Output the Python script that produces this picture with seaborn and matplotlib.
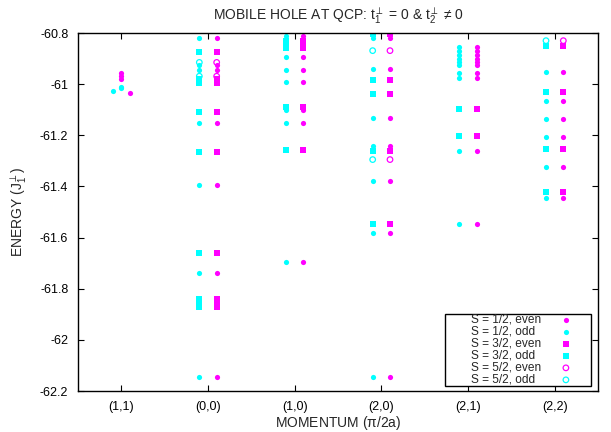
import numpy as np
import pandas as pd
import seaborn as sns
import matplotlib.pyplot as plt

# momentum points along the x axis
momenta = ['(1,1)', '(0,0)', '(1,0)', '(2,0)', '(2,1)', '(2,2)']

# S = 1/2 levels (filled circles); odd sits left of the tick, even to the right
half_odd_x = [0.9, 1.0, 1.0]
half_odd_E = [-61.027, -61.010, -61.017]
half_even_x = [1.0, 1.0, 1.0, 1.1]
half_even_E = [-60.958, -60.968, -60.978, -61.035]
half_E = {
    '(0,0)': [-60.820, -60.925, -60.945, -61.152, -61.396, -61.740, -62.147],
    '(1,0)': [-60.813, -60.894, -60.944, -60.992, -61.103, -61.150, -61.697],
    '(2,0)': [-60.820, -60.939, -61.133, -61.241, -61.380, -61.581, -62.147],
    '(2,1)': [-60.855, -60.870, -60.885, -60.900, -60.915, -60.925, -60.955,
              -60.975, -61.262, -61.548],
    '(2,2)': [-60.951, -61.065, -61.135, -61.206, -61.324, -61.445],
}

# S = 3/2 levels (filled squares)
three_E = {
    '(0,0)': [-60.874, -60.980, -60.995, -61.108, -61.264, -61.662, -61.840,
              -61.855, -61.870],
    '(1,0)': [-60.830, -60.845, -60.860, -61.090, -61.259],
    '(2,0)': [-60.805, -60.985, -61.037, -61.263, -61.548],
    '(2,1)': [-61.099, -61.202],
    '(2,2)': [-60.849, -61.030, -61.255, -61.423],
}

# S = 5/2 levels (open circles)
five_E = {
    '(0,0)': [-60.915, -60.969],
    '(2,0)': [-60.869, -61.295],
    '(2,2)': [-60.830],
}

labels = ['S = 1/2, even', 'S = 1/2, odd', 'S = 3/2, even',
          'S = 3/2, odd', 'S = 5/2, even', 'S = 5/2, odd']

shift = 0.1
lead = ' ' * 8   # gnuplot key has a wide left margin


def to_frame(levels, side):
    rows = []
    for k, vals in levels.items():
        pos = momenta.index(k) + 1 + side * shift
        for e in vals:
            rows.append((pos, e))
    return pd.DataFrame(rows, columns=['x', 'E'])


sns.set_style('ticks')
plt.rcParams['font.family'] = ['Liberation Sans', 'DejaVu Sans']
plt.rcParams['mathtext.fontset'] = 'custom'
plt.rcParams['mathtext.rm'] = 'Liberation Sans'
plt.rcParams['mathtext.it'] = 'Liberation Sans'

fig = plt.figure(figsize=(6.11, 4.32), dpi=100)
ax = fig.add_axes([78 / 611, 1 - 391 / 432, 520 / 611, 358 / 432])

mag = '#ff00ff'
cya = '#00ffff'

# S = 1/2
d = pd.concat([to_frame(half_E, +1),
               pd.DataFrame({'x': half_even_x, 'E': half_even_E})])
sns.scatterplot(data=d, x='x', y='E', color=mag, marker='o', s=14,
                linewidth=0, label=lead + labels[0], ax=ax)
d = pd.concat([to_frame(half_E, -1),
               pd.DataFrame({'x': half_odd_x, 'E': half_odd_E})])
sns.scatterplot(data=d, x='x', y='E', color=cya, marker='o', s=14,
                linewidth=0, label=lead + labels[1], ax=ax)

# S = 3/2
sns.scatterplot(data=to_frame(three_E, +1), x='x', y='E', color=mag,
                marker='s', s=19, linewidth=0, label=lead + labels[2], ax=ax)
sns.scatterplot(data=to_frame(three_E, -1), x='x', y='E', color=cya,
                marker='s', s=19, linewidth=0, label=lead + labels[3], ax=ax)

# S = 5/2 (open)
d = to_frame(five_E, +1)
ax.scatter(d['x'], d['E'], s=16, facecolors='none', edgecolors=mag,
           linewidths=0.9, label=lead + labels[4])
d = to_frame(five_E, -1)
ax.scatter(d['x'], d['E'], s=16, facecolors='none', edgecolors=cya,
           linewidths=0.9, label=lead + labels[5])

ax.set_xlim(0.5, 6.5)
ax.set_ylim(-62.2, -60.8)
ax.set_xticks(range(1, 7))
ax.set_xticklabels(momenta)
yt = np.arange(-62.2, -60.79, 0.2)
ax.set_yticks(yt)
ax.set_yticklabels(['%g' % round(v, 1) for v in yt])
ax.tick_params(direction='in', length=4, width=0.8, labelsize=9,
               top=True, right=True, pad=7, colors='black')
for sp in ax.spines.values():
    sp.set_linewidth(1.0)
    sp.set_color('black')

ax.set_title(r'MOBILE HOLE AT QCP: t$_1^{\perp}$ = 0 & t$_2^{\perp}$ ≠ 0',
             fontsize=10, pad=9)
ax.set_xlabel(r'MOMENTUM ($\pi$/2a)', fontsize=10, labelpad=1)
ax.set_ylabel(r'ENERGY (J$_1^{\perp}$)', fontsize=10, labelpad=8)

leg = ax.legend(loc='lower right', bbox_to_anchor=(0.9865, 0.014),
                markerfirst=False, fontsize=8.6, frameon=True, fancybox=False,
                edgecolor='black', framealpha=1, borderaxespad=0,
                labelspacing=0.0, handlelength=4.2, handletextpad=0.0,
                borderpad=0.0)
leg.get_frame().set_linewidth(1.0)

# left-justify the key texts while keeping the markers in one column
fig.canvas.draw()
rend = fig.canvas.get_renderer()
widths = [t.get_window_extent(rend).width for t in leg.get_texts()]
px = rend.points_to_pixels(1.0)
rows = leg._legend_handle_box.get_children()[0].get_children()
for row, w in zip(rows, widths):
    row.sep += (max(widths) - w) / px

fig.savefig('out.png', dpi=100)
